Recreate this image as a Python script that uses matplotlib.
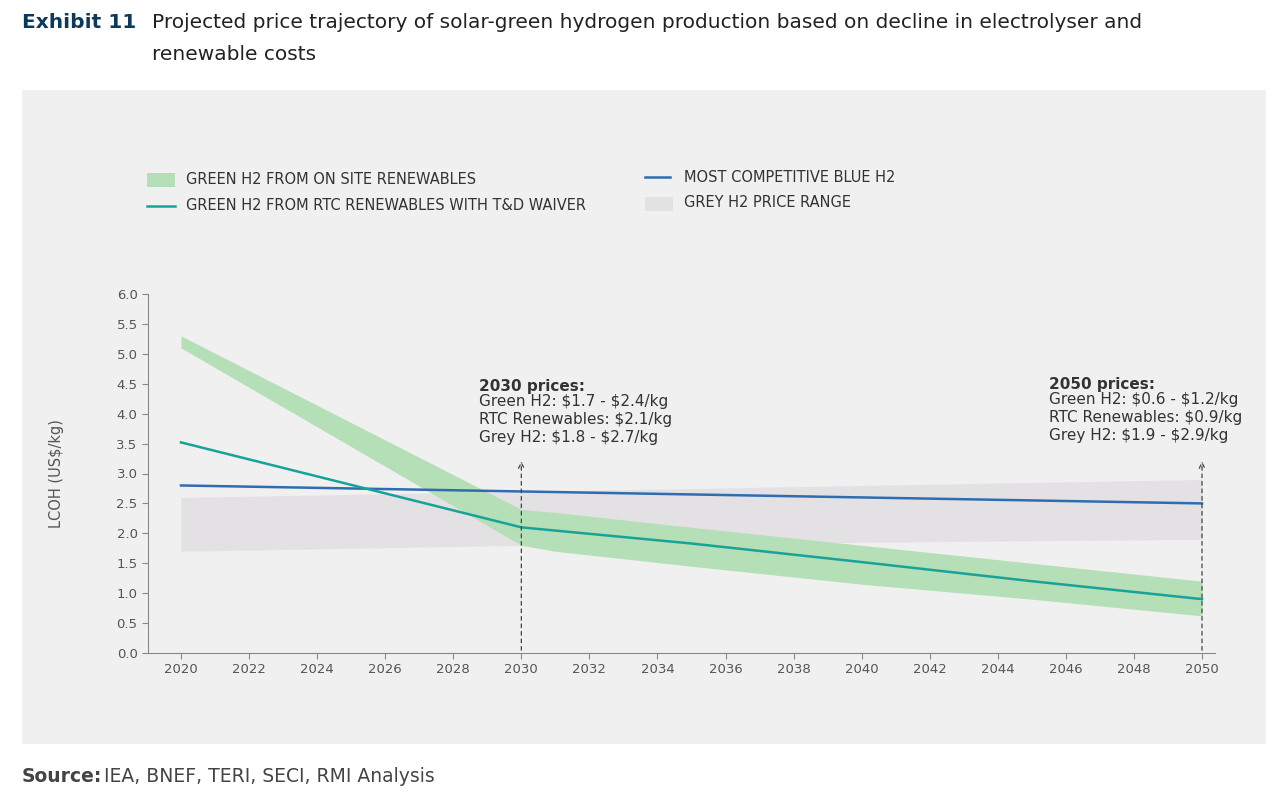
import matplotlib.pyplot as plt
import numpy as np
from matplotlib.patches import Rectangle

years_band = [2020, 2030, 2031, 2035, 2040, 2045, 2050]
green_upper = [5.3, 2.4, 2.35, 2.1, 1.8, 1.5, 1.2]
green_lower = [5.1, 1.8, 1.7, 1.45, 1.15, 0.9, 0.62]
years_rtc = [2020, 2030, 2035, 2040, 2045, 2050]
rtc = [3.52, 2.1, 1.83, 1.52, 1.2, 0.9]
years_blue = [2020, 2030, 2050]
blue = [2.8, 2.7, 2.5]
years_grey = [2020, 2030, 2050]
grey_low = [1.7, 1.8, 1.9]
grey_high = [2.6, 2.7, 2.9]
xticks = list(range(2020, 2051, 2))
yticks = [0.0, 0.5, 1.0, 1.5, 2.0, 2.5, 3.0, 3.5, 4.0, 4.5, 5.0, 5.5, 6.0]

W, H = 1280, 800
def fy(p): return 1-p/H
fig = plt.figure(figsize=(12.8, 8), dpi=100)
fig.patch.set_facecolor('white')
bg = fig.add_axes([22/W, fy(744), (1266-22)/W, (744-90)/H], zorder=-10)
bg.set_facecolor('#f0f0f0'); bg.set_xticks([]); bg.set_yticks([])
for s in bg.spines.values(): s.set_visible(False)

fig.text(22/W, fy(22), 'Exhibit 11', fontsize=14.5, fontweight='bold', color='#0b3a5c', va='center')
fig.text(152/W, fy(22), 'Projected price trajectory of solar-green hydrogen production based on decline in electrolyser and',
         fontsize=14.5, color='#222222', va='center')
fig.text(152/W, fy(55), 'renewable costs', fontsize=14.5, color='#222222', va='center')
fig.text(22/W, fy(777), 'Source:', fontsize=13.5, fontweight='bold', color='#444444', va='center')
fig.text(104/W, fy(777), 'IEA, BNEF, TERI, SECI, RMI Analysis', fontsize=13.5, color='#444444', va='center')

x0, x1 = 148, 1215
ax = fig.add_axes([x0/W, fy(653), (x1-x0)/W, (653-294)/H], zorder=1)
ax.set_facecolor('none')
ppy = (1202-181)/30
ax.set_xlim(2020-(181-x0)/ppy, 2050+(x1-1202)/ppy)
ax.set_ylim(0, 6)
ax.fill_between(years_grey, grey_low, grey_high, color='#e3e1e4', lw=0, zorder=1)
ax.fill_between(years_band, green_lower, green_upper, color='#b5dfb7', lw=0, zorder=2)
ax.plot(years_blue, blue, color='#2f6db0', lw=1.8, zorder=3)
ax.plot(years_rtc, rtc, color='#17a398', lw=1.8, zorder=4)
for yr in (2030, 2050):
    ax.annotate('', xy=(yr, 3.25), xytext=(yr, 0), arrowprops=dict(arrowstyle='->', ls=(0, (3, 3)), color='#444444', lw=0.9), zorder=5)
ax.text(2028.75, 4.58, '2030 prices:', fontsize=11, fontweight='bold', color='#333333', va='top')
ax.text(2028.75, 4.33, 'Green H2: \\$1.7 - \\$2.4/kg\nRTC Renewables: \\$2.1/kg\nGrey H2: \\$1.8 - \\$2.7/kg',
        fontsize=11, color='#333333', va='top', linespacing=1.25)
ax.text(2045.5, 4.62, '2050 prices:', fontsize=11, fontweight='bold', color='#333333', va='top')
ax.text(2045.5, 4.37, 'Green H2: \\$0.6 - \\$1.2/kg\nRTC Renewables: \\$0.9/kg\nGrey H2: \\$1.9 - \\$2.9/kg',
        fontsize=11, color='#333333', va='top', linespacing=1.25)
ax.set_xticks(xticks)
ax.set_yticks(yticks)
ax.set_yticklabels([f'{v:.1f}' for v in yticks])
ax.tick_params(labelsize=9.5, colors='#555555', length=4, color='#888888')
for s in ['top', 'right']:
    ax.spines[s].set_visible(False)
for s in ['left', 'bottom']:
    ax.spines[s].set_color('#888888')
ax.set_ylabel('LCOH (US$/kg)', fontsize=10.5, color='#555555', labelpad=38)

# legend
fig.patches.append(Rectangle((147/W, fy(187)), 28/W, 14/H, transform=fig.transFigure, facecolor='#b5dfb7', edgecolor='none'))
fig.add_artist(plt.Line2D([147/W, 175/W], [fy(206), fy(206)], color='#17a398', lw=1.8))
fig.add_artist(plt.Line2D([645/W, 670/W], [fy(177), fy(177)], color='#2f6db0', lw=1.8))
fig.patches.append(Rectangle((645/W, fy(211)), 28/W, 14/H, transform=fig.transFigure, facecolor='#e3e1e4', edgecolor='none'))
for (x, y, t) in [(186, 180, 'GREEN H2 FROM ON SITE RENEWABLES'), (186, 206, 'GREEN H2 FROM RTC RENEWABLES WITH T&D WAIVER'),
                  (684, 177, 'MOST COMPETITIVE BLUE H2'), (684, 203, 'GREY H2 PRICE RANGE')]:
    fig.text(x/W, fy(y), t, fontsize=10.5, color='#333333', va='center')

fig.savefig('out.png', dpi=100)
